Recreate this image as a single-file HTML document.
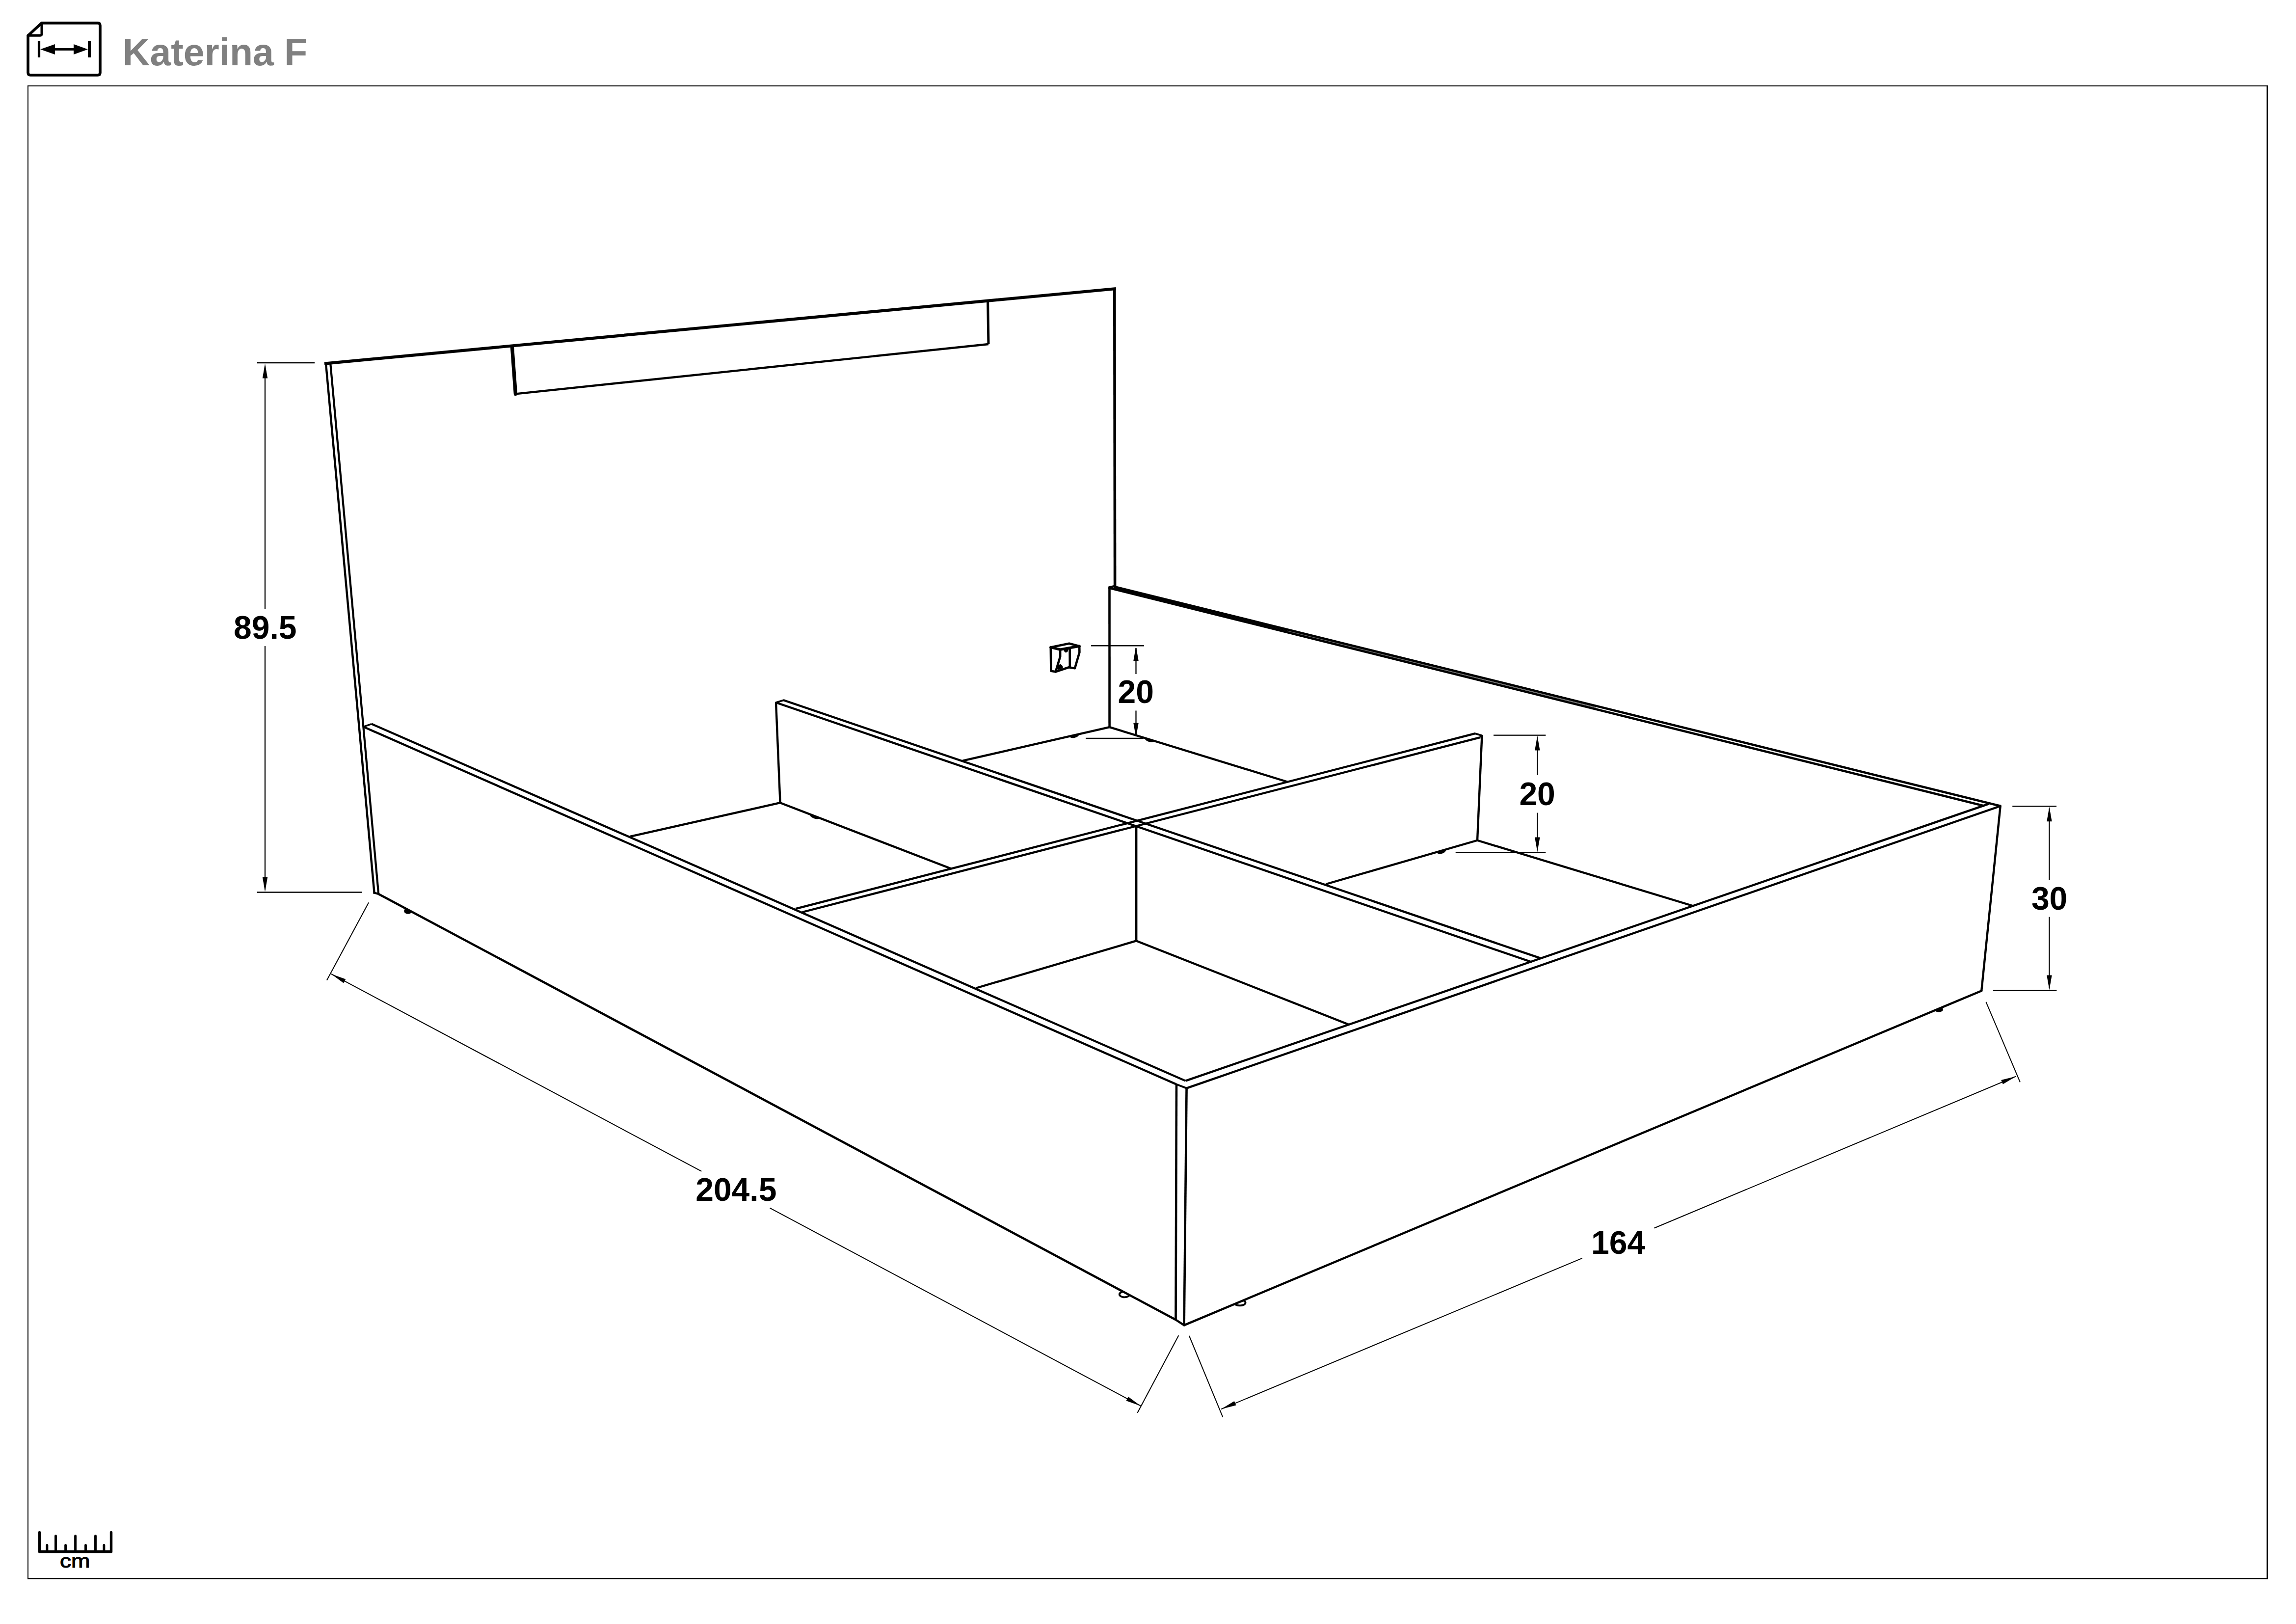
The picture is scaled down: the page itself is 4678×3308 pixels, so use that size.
<!DOCTYPE html>
<html lang="en">
<head>
<meta charset="utf-8">
<title>Katerina F</title>
<style>
html,body{margin:0;padding:0;background:#fff;}
body{width:4678px;height:3308px;overflow:hidden;position:relative;font-family:"Liberation Sans",Arial,sans-serif;}
svg{position:absolute;left:0;top:0;display:block;}
svg text{font-family:"Liberation Sans",Arial,sans-serif;font-weight:bold;}
</style>
</head>
<body>
<svg width="4678" height="3308" viewBox="0 0 4678 3308" stroke="#000" fill="none">
<line x1="56.0" y1="175.1" x2="4620.9" y2="175.1" stroke-width="2.0" stroke-linecap="butt"/>
<line x1="57.0" y1="174.0" x2="57.0" y2="3216.8" stroke-width="2.0" stroke-linecap="butt"/>
<line x1="4619.5" y1="174.0" x2="4619.5" y2="3216.8" stroke-width="2.8" stroke-linecap="butt"/>
<line x1="56.0" y1="3215.4" x2="4620.9" y2="3215.4" stroke-width="2.8" stroke-linecap="butt"/>
<g stroke-width="5.6" stroke-linejoin="round" stroke-linecap="round" fill="none">
<path d="M85,46.9 H199 Q204,46.9 204,52 V148 Q204,153 199,153 H62.2 Q57.1,153 57.1,148 V72.5 Z"/>
<path d="M57.1,72.2 H82 Q85,72.2 85,69 V46.9" stroke-width="5"/>
</g>
<rect x="76.9" y="84" width="5.2" height="32.9" fill="#000" stroke="none"/>
<rect x="179.1" y="84" width="5.9" height="32.9" fill="#000" stroke="none"/>
<rect x="105" y="98" width="50" height="4.9" fill="#000" stroke="none"/>
<polygon points="82.1,100.4 111.9,89.9 111.9,111" fill="#000" stroke="none"/>
<polygon points="179.1,100.4 150,89.9 150,111" fill="#000" stroke="none"/>
<g stroke-width="4.9" stroke-linecap="round" fill="none">
<path d="M80.5,3121.4 V3160.7 H226.5 V3121.4" stroke-width="5.4" stroke-linejoin="round"/>
<line x1="113.5" y1="3128.4" x2="113.5" y2="3159"/>
<line x1="153.6" y1="3128.4" x2="153.6" y2="3159"/>
<line x1="194.5" y1="3128.4" x2="194.5" y2="3159"/>
<line x1="95.9" y1="3147.4" x2="95.9" y2="3159"/>
<line x1="133.6" y1="3147.4" x2="133.6" y2="3159"/>
<line x1="174.5" y1="3147.4" x2="174.5" y2="3159"/>
<line x1="211.9" y1="3147.4" x2="211.9" y2="3159"/>
</g>
<ellipse cx="831.4" cy="1855.6" rx="7.6" ry="5.4" fill="#000" stroke-width="1.5"/>
<ellipse cx="2291.2" cy="2636.6" rx="10.4" ry="5.8" fill="#fff" stroke-width="3.8"/>
<ellipse cx="2526.2" cy="2653.6" rx="11.4" ry="5.8" fill="#fff" stroke-width="3.8"/>
<ellipse cx="3950.0" cy="2056.2" rx="7.8" ry="4.6" fill="#000" stroke-width="2.0"/>
<polygon points="740.4,1480.4 2397.0,2208.8 2395.5,2688.2 771.2,1821.0" fill="#fff" stroke="none"/>
<polygon points="2417.6,2216.6 4075.7,1641.8 4037.2,2018.2 2412.6,2699.4" fill="#fff" stroke="none"/>
<line x1="762.6" y1="1818.6" x2="664.0" y2="740.3" stroke-width="4.4" stroke-linecap="square"/>
<line x1="664.0" y1="740.3" x2="2270.8" y2="588.3" stroke-width="6.2" stroke-linecap="square"/>
<line x1="2270.8" y1="588.3" x2="2271.6" y2="1194.0" stroke-width="5.6" stroke-linecap="butt"/>
<line x1="673.3" y1="741.0" x2="771.2" y2="1821.0" stroke-width="4.2" stroke-linecap="butt"/>
<line x1="762.6" y1="1818.6" x2="771.2" y2="1821.0" stroke-width="4.2" stroke-linecap="round"/>
<path d="M1043.4,706.0 L1050.4,802.4" stroke-width="7.4" stroke-linejoin="miter" stroke-linecap="round" fill="none"/>
<path d="M1050.4,802.4 L2014.0,701.0" stroke-width="4.4" stroke-linejoin="miter" stroke-linecap="butt" fill="none"/>
<path d="M2014.0,701.0 L2012.6,612.5" stroke-width="5.0" stroke-linejoin="miter" stroke-linecap="butt" fill="none"/>
<line x1="740.4" y1="1480.4" x2="757.1" y2="1474.6" stroke-width="3.6" stroke-linecap="butt"/>
<line x1="757.1" y1="1474.6" x2="2415.4" y2="2201.6" stroke-width="4.3" stroke-linecap="butt"/>
<line x1="740.4" y1="1480.4" x2="2397.0" y2="2208.8" stroke-width="4.3" stroke-linecap="butt"/>
<line x1="771.2" y1="1821.0" x2="2395.5" y2="2688.2" stroke-width="4.6" stroke-linecap="butt"/>
<line x1="2397.0" y1="2208.8" x2="2395.5" y2="2688.2" stroke-width="4.6" stroke-linecap="butt"/>
<line x1="2417.6" y1="2216.6" x2="2412.6" y2="2699.4" stroke-width="4.6" stroke-linecap="butt"/>
<line x1="2395.5" y1="2688.2" x2="2412.6" y2="2699.4" stroke-width="4.3" stroke-linecap="round"/>
<line x1="2397.0" y1="2208.8" x2="2417.6" y2="2216.6" stroke-width="3.8" stroke-linecap="butt"/>
<line x1="2415.4" y1="2201.6" x2="4052.2" y2="1637.4" stroke-width="4.3" stroke-linecap="butt"/>
<line x1="2417.6" y1="2216.6" x2="4075.7" y2="1641.8" stroke-width="4.3" stroke-linecap="butt"/>
<line x1="4075.7" y1="1641.8" x2="4037.2" y2="2018.2" stroke-width="4.4" stroke-linecap="round"/>
<line x1="2412.6" y1="2699.4" x2="4037.2" y2="2018.2" stroke-width="4.4" stroke-linecap="round"/>
<line x1="2260.5" y1="1195.6" x2="2260.6" y2="1481.1" stroke-width="4.6" stroke-linecap="butt"/>
<line x1="2269.5" y1="1194.8" x2="4075.7" y2="1641.8" stroke-width="4.6" stroke-linecap="butt"/>
<line x1="2258.6" y1="1197.2" x2="4042.3" y2="1641.6" stroke-width="4.6" stroke-linecap="butt"/>
<line x1="2258.8" y1="1196.6" x2="2271.0" y2="1193.8" stroke-width="4.4" stroke-linecap="butt"/>
<line x1="2270.0" y1="1197.4" x2="2623.0" y2="1285.1" stroke-width="2.0" stroke-linecap="butt"/>
<g opacity="0.55">
<line x1="2623.0" y1="1285.1" x2="3251.3" y2="1441.1" stroke-width="1.6" stroke-linecap="butt"/>
</g>
<line x1="1581.0" y1="1431.0" x2="1596.6" y2="1426.2" stroke-width="3.8" stroke-linecap="round"/>
<line x1="1581.0" y1="1431.0" x2="1589.6" y2="1635.2" stroke-width="4.4" stroke-linecap="butt"/>
<line x1="1596.6" y1="1426.2" x2="3138.8" y2="1951.9" stroke-width="4.3" stroke-linecap="butt"/>
<line x1="1581.0" y1="1431.0" x2="3121.0" y2="1959.8" stroke-width="4.3" stroke-linecap="butt"/>
<line x1="1621.0" y1="1851.2" x2="3005.4" y2="1494.1" stroke-width="4.3" stroke-linecap="butt"/>
<line x1="1634.7" y1="1858.0" x2="3016.5" y2="1501.8" stroke-width="4.3" stroke-linecap="butt"/>
<path d="M3005.4,1494.1 L3019.4,1498.3 L3016.5,1501.8" stroke-width="3.8" stroke-linejoin="round" stroke-linecap="butt" fill="none"/>
<line x1="3019.4" y1="1498.3" x2="3010.0" y2="1711.8" stroke-width="4.4" stroke-linecap="butt"/>
<line x1="2315.2" y1="1680.4" x2="2315.2" y2="1916.4" stroke-width="4.4" stroke-linecap="butt"/>
<line x1="1589.6" y1="1635.2" x2="1284.2" y2="1703.8" stroke-width="4.3" stroke-linecap="butt"/>
<line x1="1589.6" y1="1635.2" x2="1938.1" y2="1769.6" stroke-width="4.3" stroke-linecap="butt"/>
<line x1="2260.6" y1="1481.1" x2="1961.4" y2="1549.6" stroke-width="4.3" stroke-linecap="butt"/>
<line x1="2260.6" y1="1481.1" x2="2623.6" y2="1592.8" stroke-width="4.3" stroke-linecap="butt"/>
<line x1="2315.2" y1="1916.4" x2="1989.3" y2="2012.5" stroke-width="4.3" stroke-linecap="butt"/>
<line x1="2315.2" y1="1916.4" x2="2749.5" y2="2087.5" stroke-width="4.3" stroke-linecap="butt"/>
<line x1="3010.0" y1="1711.8" x2="2701.4" y2="1801.0" stroke-width="4.3" stroke-linecap="butt"/>
<line x1="3010.0" y1="1711.8" x2="3449.3" y2="1845.2" stroke-width="4.3" stroke-linecap="butt"/>
<path d="M1651.0,1659.0 A9.4,4.0 21.1 0 0 1668.6,1665.8" stroke-width="2" fill="#000"/>
<path d="M2179.5,1499.5 A9.5,4.6 -13.1 0 0 2198.0,1495.2" stroke-width="2" fill="#000"/>
<path d="M2333.5,1503.8 A9.2,4.2 17.1 0 0 2351.0,1509.2" stroke-width="2" fill="#000"/>
<path d="M2928.0,1735.8 A8.8,4.6 -15.8 0 0 2945.0,1731.0" stroke-width="2" fill="#000"/>
<g stroke-width="4.6" stroke-linejoin="round" stroke-linecap="round" fill="none">
<path d="M2140.8,1318.4 L2178.4,1310.8 L2199.2,1316.2 L2199.4,1328.8 L2189.9,1361.3 L2177.8,1359.3 L2150.7,1368.3 L2141.4,1366.8 Z"/>
<path d="M2140.8,1318.4 L2160.1,1323.2 L2199.2,1316.2" stroke-width="5.4"/>
<path d="M2160.1,1323.2 L2160.1,1337.6 L2150.7,1368.3"/>
<path d="M2179.6,1320.7 L2179.8,1359.3"/>
</g>
<path d="M2167.6,1322.6 L2177.2,1320.6 L2174.6,1327.4 L2171.6,1328.8 L2168.8,1326.6 Z" fill="#000" stroke="#000" stroke-width="1.2" stroke-linejoin="round"/>
<path d="M2154.0,1360.8 L2157.4,1354.6 L2161.2,1353.6 L2164.4,1356.6 L2165.2,1360.4 L2156.0,1363.4 Z" fill="#000" stroke="#000" stroke-width="1.2" stroke-linejoin="round"/>
<line x1="523.9" y1="739.0" x2="641.1" y2="739.0" stroke-width="2.3" stroke-linecap="butt"/>
<line x1="523.7" y1="1817.5" x2="737.7" y2="1817.5" stroke-width="2.4" stroke-linecap="butt"/>
<line x1="540.0" y1="745.0" x2="540.0" y2="1241.0" stroke-width="2.3" stroke-linecap="butt"/>
<line x1="540.0" y1="1316.0" x2="540.0" y2="1812.0" stroke-width="2.3" stroke-linecap="butt"/>
<polygon points="540.0,740.5 545.2,770.5 534.8,770.5" fill="#000" stroke="none"/>
<polygon points="540.0,1816.5 534.8,1786.5 545.2,1786.5" fill="#000" stroke="none"/>
<line x1="2223.1" y1="1315.3" x2="2331.0" y2="1315.3" stroke-width="2.6" stroke-linecap="butt"/>
<line x1="2212.1" y1="1504.0" x2="2329.4" y2="1504.0" stroke-width="2.3" stroke-linecap="butt"/>
<line x1="2314.5" y1="1320.0" x2="2314.5" y2="1373.0" stroke-width="2.3" stroke-linecap="butt"/>
<line x1="2314.5" y1="1447.5" x2="2314.5" y2="1498.0" stroke-width="2.3" stroke-linecap="butt"/>
<polygon points="2314.5,1316.0 2319.7,1346.0 2309.3,1346.0" fill="#000" stroke="none"/>
<polygon points="2314.5,1502.8 2309.3,1472.8 2319.7,1472.8" fill="#000" stroke="none"/>
<line x1="3043.0" y1="1497.6" x2="3149.3" y2="1497.6" stroke-width="2.3" stroke-linecap="butt"/>
<line x1="2965.7" y1="1736.6" x2="3149.3" y2="1736.6" stroke-width="2.3" stroke-linecap="butt"/>
<line x1="3132.3" y1="1502.0" x2="3132.3" y2="1579.0" stroke-width="2.3" stroke-linecap="butt"/>
<line x1="3132.3" y1="1655.6" x2="3132.3" y2="1731.0" stroke-width="2.3" stroke-linecap="butt"/>
<polygon points="3132.3,1498.6 3137.5,1528.6 3127.1,1528.6" fill="#000" stroke="none"/>
<polygon points="3132.3,1735.6 3127.1,1705.6 3137.5,1705.6" fill="#000" stroke="none"/>
<line x1="4100.2" y1="1642.3" x2="4190.0" y2="1642.3" stroke-width="2.3" stroke-linecap="butt"/>
<line x1="4060.8" y1="2017.6" x2="4190.4" y2="2017.6" stroke-width="2.3" stroke-linecap="butt"/>
<line x1="4175.4" y1="1647.0" x2="4175.4" y2="1792.0" stroke-width="2.3" stroke-linecap="butt"/>
<line x1="4175.4" y1="1867.7" x2="4175.4" y2="2012.0" stroke-width="2.3" stroke-linecap="butt"/>
<polygon points="4175.4,1643.3 4180.6,1673.3 4170.2,1673.3" fill="#000" stroke="none"/>
<polygon points="4175.4,2016.6 4170.2,1986.6 4180.6,1986.6" fill="#000" stroke="none"/>
<line x1="751.1" y1="1838.5" x2="665.9" y2="1996.7" stroke-width="2.0" stroke-linecap="butt"/>
<line x1="2401.4" y1="2720.3" x2="2317.4" y2="2878.0" stroke-width="2.0" stroke-linecap="butt"/>
<line x1="674.8" y1="1983.9" x2="1429.3" y2="2385.9" stroke-width="2.0" stroke-linecap="butt"/>
<line x1="1568.6" y1="2460.6" x2="2324.0" y2="2863.7" stroke-width="2.0" stroke-linecap="butt"/>
<polygon points="674.8,1983.9 704.3,1994.4 700.0,2002.5" fill="#000" stroke="none"/>
<polygon points="2324.0,2863.7 2294.5,2853.2 2298.8,2845.1" fill="#000" stroke="none"/>
<line x1="2422.9" y1="2721.0" x2="2491.4" y2="2886.6" stroke-width="2.0" stroke-linecap="butt"/>
<line x1="4046.4" y1="2040.8" x2="4115.9" y2="2204.4" stroke-width="2.0" stroke-linecap="butt"/>
<line x1="2488.0" y1="2870.3" x2="3223.7" y2="2562.9" stroke-width="2.0" stroke-linecap="butt"/>
<line x1="3370.6" y1="2501.5" x2="4107.6" y2="2192.4" stroke-width="2.0" stroke-linecap="butt"/>
<polygon points="2488.0,2870.3 2514.8,2854.1 2518.4,2862.6" fill="#000" stroke="none"/>
<polygon points="4107.6,2192.4 4080.8,2208.6 4077.2,2200.1" fill="#000" stroke="none"/>
<g stroke="none" fill="#000" font-size="66">
<text x="249.8" y="132.8" font-size="77" fill="#808080">Katerina F</text>
<text x="540.3" y="1300.6" text-anchor="middle" font-size="66">89.5</text>
<text x="2314.2" y="1431.7" text-anchor="middle" font-size="66">20</text>
<text x="3132.1" y="1639.8" text-anchor="middle" font-size="66">20</text>
<text x="4175.6" y="1853.1" text-anchor="middle" font-size="66">30</text>
<text x="1499.8" y="2445.8" text-anchor="middle">204.5</text>
<text x="3297.1" y="2554.3" text-anchor="middle" font-size="66">164</text>
<text transform="translate(152.8,3192.8) scale(1.2,1)" x="0" y="0" text-anchor="middle" font-size="38.5" stroke="#000" stroke-width="1.1" style="font-weight:normal">cm</text>
</g>
</svg>
</body>
</html>
